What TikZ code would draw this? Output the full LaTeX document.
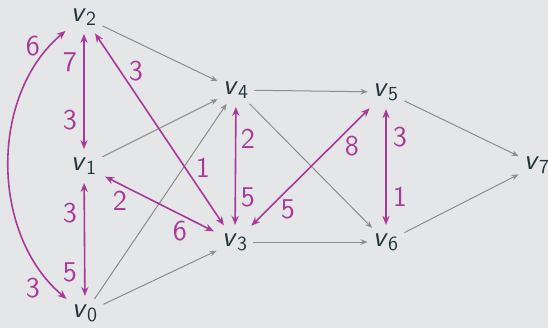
\documentclass[tikz,border=0pt]{standalone}
\usetikzlibrary{arrows.meta}
\definecolor{bg}{HTML}{E5E6E7}
\definecolor{ink}{HTML}{23373B}
\definecolor{mag}{HTML}{A8399A}
\definecolor{edgegray}{HTML}{8C8C8C}
\newcommand{\vname}[1]{\textit{v}\textsubscript{#1}}

\begin{document}
\begin{tikzpicture}[
        x=0.5bp, y=0.5bp, font=\sffamily\Large,
        vtx/.style={text=ink, inner sep=2.5bp},
        arc/.style={-{Stealth[length=3.5bp, width=2.8bp]}, edgegray, line width=0.5bp},
        pair/.style={{Stealth[length=4.5bp, width=3.6bp]}-{Stealth[length=4.5bp, width=3.6bp]}, mag, line width=0.8bp, shorten <=1.5bp, shorten >=1.5bp},
        wt/.style={text=mag, inner sep=0pt}
    ]
        \fill[bg] (0,0) rectangle (548,328);
        \useasboundingbox (0,0) rectangle (548,328);
        \node[vtx] (v0) at (85,15) {\vname{0}};
        \node[vtx] (v1) at (84,162) {\vname{1}};
        \node[vtx] (v2) at (84,311) {\vname{2}};
        \node[vtx] (v3) at (235,86) {\vname{3}};
        \node[vtx] (v4) at (236,238) {\vname{4}};
        \node[vtx] (v5) at (386,236) {\vname{5}};
        \node[vtx] (v6) at (386,86) {\vname{6}};
        \node[vtx] (v7) at (537,163) {\vname{7}};
        \draw[arc] (v2) -- (v4);
        \draw[arc] (v1) -- (v4);
        \draw[arc] (v0) -- (v4);
        \draw[arc] (v0) -- (v3);
        \draw[arc] (v4) -- (v5);
        \draw[arc] (v4) -- (v6);
        \draw[arc] (v3) -- (v6);
        \draw[arc] (v5) -- (v7);
        \draw[arc] (v6) -- (v7);
        \draw[pair] (v2) -- (v1);
        \draw[pair] (v1) -- (v0);
        \draw[pair, shorten <=0pt, shorten >=0pt] (v2.south west) to[out=220, in=140, looseness=0.95] (v0.north west);
        \draw[pair] (v2) -- (v3);
        \draw[pair] (v1) -- (v3);
        \draw[pair] (v4) -- (v3);
        \draw[pair] (v5) -- (v3);
        \draw[pair] (v5) -- (v6);
        \node[wt] (w21) at (70,266) {7};
        \node[wt] (w12) at (70,208) {3};
        \node[wt] (w10) at (70,115) {3};
        \node[wt] (w01) at (70,56) {5};
        \node[wt] (w20) at (33,282) {6};
        \node[wt] (w02) at (33,40) {3};
        \node[wt] (w23) at (136,257) {3};
        \node[wt] (w32) at (203,160) {1};
        \node[wt] (w13) at (120,127) {2};
        \node[wt] (w31) at (180,97) {6};
        \node[wt] (w43) at (248,189) {2};
        \node[wt] (w34) at (248,131) {5};
        \node[wt] (w53) at (352,182) {8};
        \node[wt] (w35) at (288,119) {5};
        \node[wt] (w56) at (400,191) {3};
        \node[wt] (w65) at (400,131) {1};
    \end{tikzpicture}
\end{document}
